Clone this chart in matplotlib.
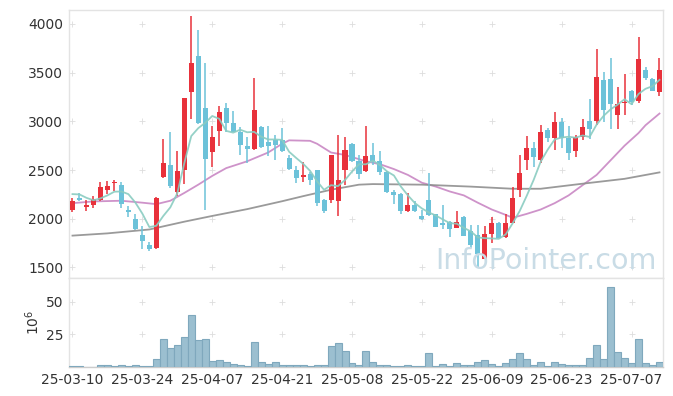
import matplotlib
matplotlib.use("Agg")
import matplotlib.pyplot as plt
import numpy as np

# daily candles, 25-03-10 .. 25-07-11 (trading days)
opens = [2092, 2209, 2116, 2137, 2188, 2298, 2363, 2349, 2092, 1993,
         1835, 1733, 1695, 2425, 2555, 2270, 2496, 3298, 3675, 3140,
         2681, 2897, 3140, 2986, 2894, 2750, 2712, 2945, 2791, 2812,
         2812, 2627, 2503, 2425, 2462, 2503, 2192, 2188, 2178, 2496,
         2767, 2592, 2486, 2654, 2592, 2479, 2277, 2253, 2075, 2140,
         2031, 2195, 2044, 1952, 1966, 1904, 2020, 1877, 1829, 1592,
         1842, 1955, 1808, 1955, 2294, 2599, 2729, 2599, 2914, 2829,
         2997, 2832, 2692, 2839, 3007, 3000, 3428, 3438, 3062, 3185,
         3315, 3205, 3527, 3435, 3298]
highs = [2212, 2260, 2195, 2229, 2380, 2383, 2401, 2377, 2133, 2044,
         1921, 1760, 2219, 2822, 2894, 2698, 3243, 4086, 3935, 3599,
         2952, 3157, 3188, 3106, 2942, 2842, 3445, 2955, 2952, 2863,
         2928, 2657, 2538, 2579, 2479, 2503, 2205, 2654, 2860, 2842,
         2777, 2651, 2952, 2777, 2695, 2486, 2298, 2260, 2260, 2181,
         2089, 2469, 2051, 2144, 1976, 2082, 2027, 1938, 1938, 1921,
         2017, 1966, 2051, 2325, 2654, 2853, 2784, 2966, 2931, 3096,
         3034, 2949, 2863, 3024, 3229, 3743, 3503, 3651, 3353, 3486,
         3325, 3866, 3558, 3445, 3651]
lows = [2068, 2178, 2075, 2109, 2180, 2253, 2281, 2106, 2017, 1887,
        1688, 1674, 1692, 2420, 2315, 2229, 2360, 3024, 2975, 2092,
        2534, 2746, 2887, 2887, 2651, 2572, 2709, 2722, 2640, 2600,
        2681, 2503, 2366, 2377, 2349, 2133, 2055, 2161, 2027, 2349,
        2582, 2411, 2483, 2551, 2452, 2264, 2154, 2051, 2072, 2072,
        1983, 2031, 1914, 1894, 1808, 1901, 1818, 1695, 1503, 1589,
        1750, 1798, 1805, 1952, 2219, 2500, 2527, 2572, 2791, 2709,
        2729, 2606, 2637, 2805, 2822, 2966, 2997, 2925, 2925, 3065,
        3171, 3188, 3428, 3308, 3257]
closes = [2185, 2188, 2137, 2205, 2329, 2339, 2380, 2147, 2072, 1890,
          1774, 1692, 2212, 2575, 2332, 2493, 3243, 3603, 2979, 2609,
          2842, 3099, 2979, 2890, 2760, 2712, 3120, 2733, 2743, 2760,
          2692, 2514, 2414, 2445, 2394, 2157, 2075, 2654, 2397, 2705,
          2589, 2455, 2647, 2589, 2476, 2270, 2240, 2075, 2140, 2082,
          1993, 2034, 1918, 1938, 1890, 1966, 1825, 1729, 1637, 1846,
          1955, 1805, 1955, 2212, 2472, 2729, 2630, 2887, 2829, 2997,
          2825, 2671, 2839, 2942, 2921, 3459, 3120, 3175, 3181, 3202,
          3202, 3644, 3442, 3315, 3527]
volumes = [0.8, 0.8, 0.1, 0.1, 1.3, 1.3, 0.5, 1.3, 0.5, 1.3,
           0.5, 0.5, 5.9, 21.2, 14.3, 17.3, 22.7, 40.3, 20.4, 21.2,
           4.6, 5.1, 3.6, 2.0, 1.3, 0.5, 18.9, 3.6, 2.0, 3.6,
           1.3, 1.3, 1.3, 1.3, 0.5, 1.3, 1.3, 15.8, 18.1, 12.0,
           2.8, 1.3, 12.0, 3.6, 1.3, 1.3, 0.5, 0.5, 1.3, 0.5,
           0.5, 10.5, 0.5, 2.0, 0.5, 2.8, 1.3, 1.3, 3.6, 5.1,
           2.0, 0.5, 2.8, 5.9, 10.5, 5.9, 1.3, 3.6, 0.5, 3.6,
           2.0, 1.3, 1.3, 1.3, 6.6, 17.3, 5.9, 61.7, 11.2, 6.6,
           2.8, 21.2, 2.8, 1.3, 3.6]

# moving averages
ma5 = [2253, 2250, 2215, 2190, 2209, 2240, 2278, 2280, 2253, 2166,
       2053, 1915, 1928, 2029, 2117, 2261, 2571, 2849, 2930, 2985,
       3055, 3026, 2902, 2884, 2914, 2888, 2892, 2843, 2814, 2814,
       2810, 2688, 2625, 2565, 2492, 2385, 2297, 2345, 2335, 2398,
       2484, 2560, 2559, 2597, 2551, 2487, 2444, 2330, 2240, 2161,
       2106, 2065, 2033, 1993, 1955, 1949, 1907, 1870, 1809, 1801,
       1798, 1794, 1840, 1955, 2080, 2235, 2400, 2586, 2709, 2814,
       2834, 2842, 2832, 2855, 2840, 2966, 3056, 3123, 3171, 3227,
       3176, 3281, 3334, 3361, 3426]
ma20_x = [0, 3, 7, 10, 12, 14, 16, 18, 20, 22, 25, 28, 30, 31, 34, 35, 37, 39,
          42, 44, 46, 48, 50, 52, 54, 56, 58, 60, 62, 63, 65, 67, 69, 71, 73,
          75, 77, 79, 81, 82, 84]
ma20 = [2160, 2178, 2185, 2165, 2150, 2185, 2265, 2350, 2440, 2520, 2590, 2680,
        2770, 2805, 2800, 2770, 2680, 2655, 2590, 2560, 2510, 2450, 2370, 2330,
        2280, 2240, 2165, 2095, 2040, 2010, 2050, 2095, 2160, 2240, 2345, 2450,
        2600, 2750, 2880, 2960, 3080]
ma60_x = [0, 5, 11, 16, 20, 25, 30, 33, 37, 41, 43, 50, 57, 63, 67, 73, 79, 84]
ma60 = [1827, 1850, 1890, 1970, 2029, 2099, 2180, 2232, 2298, 2350, 2356,
        2350, 2330, 2308, 2308, 2360, 2410, 2476]

tick_pos = [0, 10, 20, 30, 40, 50, 60, 70, 80]
tick_labels = ["25-03-10", "25-03-24", "25-04-07", "25-04-21", "25-05-08",
               "25-05-22", "25-06-09", "25-06-23", "25-07-07"]
price_ticks = [1500, 2000, 2500, 3000, 3500, 4000]
vol_ticks = [25, 50]

up_col = "#e8313b"
down_col = "#6cc2d9"
frame = "#e3e3e3"

fig = plt.figure(figsize=(6.73, 3.96), dpi=100)
ax = fig.add_axes([0.1025, 0.298, 0.8826, 0.677])
axv = fig.add_axes([0.1025, 0.073, 0.8826, 0.225], sharex=ax)

x = np.arange(len(closes))
o = np.array(opens)
c = np.array(closes)
up = c >= o
cols = [up_col if u else down_col for u in up]

ax.vlines(x, lows, highs, colors=cols, lw=1.1, zorder=3)
body = np.maximum(np.abs(c - o), 8)
ax.bar(x, body, bottom=np.minimum(o, c), width=0.72, color=cols, zorder=4)

ax.plot(x, ma5, color="#8accc1", lw=1.3, alpha=0.9, zorder=5)
ax.plot(ma20_x, ma20, color="#c987c4", lw=1.3, alpha=0.9, zorder=2)
ax.plot(ma60_x, ma60, color="#8f8f8f", lw=1.3, alpha=0.9, zorder=2)

ax.text(0.99, 0.032, "InfoPointer.com", transform=ax.transAxes, ha="right",
        va="baseline", fontsize=20.5, color="#c9dce6", zorder=6)

ax.set_ylim(1392, 4144)
ax.set_xlim(-0.5, 84.5)
ax.set_yticks(price_ticks)

axv.bar(x, volumes, width=1.0, color="#9bbfd0", edgecolor="#7fa8bd", lw=0.8, zorder=3)
axv.set_ylim(0, 68.3)
axv.set_yticks(vol_ticks)
axv.set_ylabel("$10^6$", fontsize=10, color="#333333")
axv.yaxis.set_label_coords(-0.045, 0.5)
axv.set_xticks(tick_pos)
axv.set_xticklabels(tick_labels)

for a, yt in ((ax, price_ticks), (axv, vol_ticks)):
    gx, gy = np.meshgrid(tick_pos + [90], yt)
    a.scatter(gx.ravel(), gy.ravel(), marker="+", s=14, lw=0.6, color="#dddddd", zorder=1, clip_on=True)
    for s in a.spines.values():
        s.set_color(frame)
        s.set_linewidth(1.0)
    a.tick_params(length=0, labelsize=10, colors="#333333", pad=4)

plt.setp(ax.get_xticklabels(), visible=False)
axv.spines["bottom"].set_color("#cccccc")

fig.savefig("out.png", dpi=100, facecolor="white")
